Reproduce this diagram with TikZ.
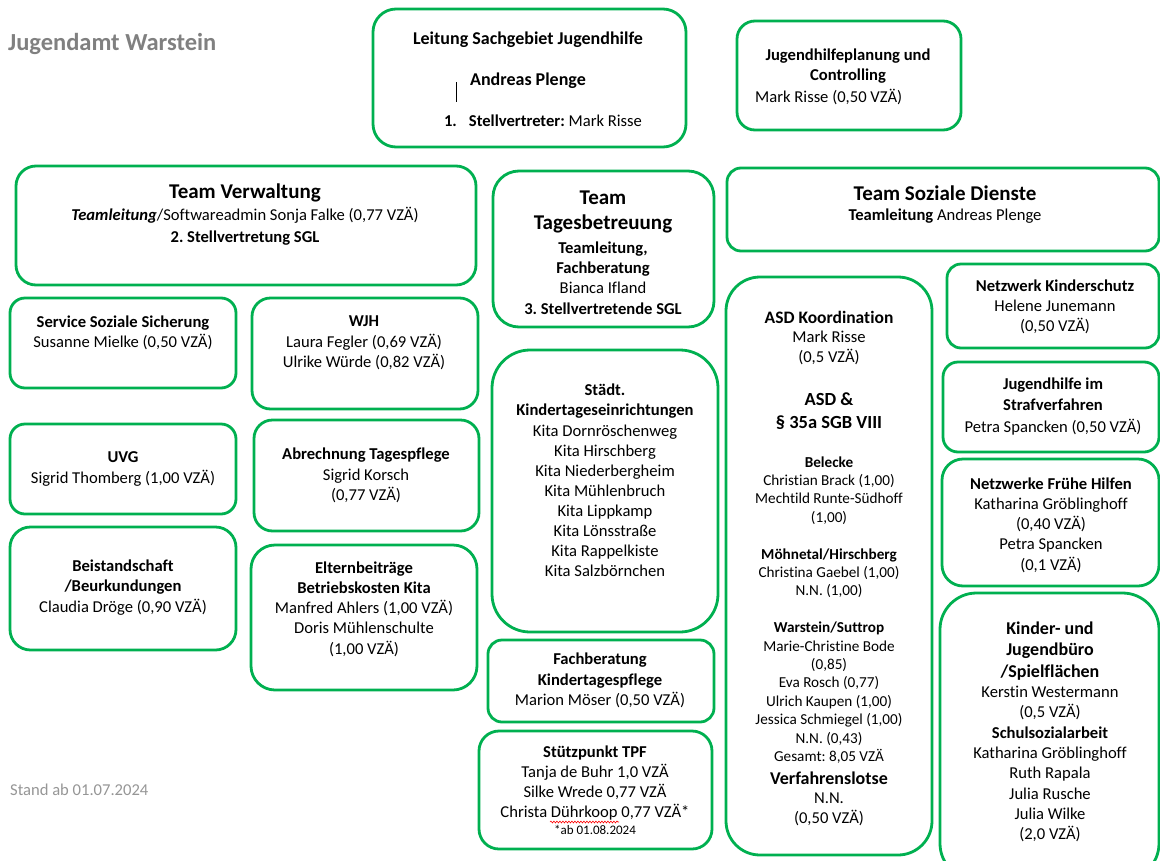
\documentclass[tikz,border=0pt]{standalone}
\usepackage{fontspec}
\setmainfont{Carlito}[Ligatures=NoCommon]
\usetikzlibrary{decorations.pathmorphing}
\definecolor{boxgreen}{RGB}{0,176,80}
\definecolor{titlegray}{RGB}{128,128,128}
\definecolor{standgray}{RGB}{150,150,150}
\frenchspacing

\begin{document}
\begin{tikzpicture}[
    x=1pt, y=-1pt,
    orgbox/.style n args={3}{draw=boxgreen, line width=2.8pt, fill=white, rounded corners=#3, minimum width=#1, minimum height=#2, inner sep=0pt},
    bodytxt/.style={align=center, inner sep=0pt, font=\fontsize{16.6}{20.3}\selectfont},
    smalltxt/.style={align=center, inner sep=0pt, font=\fontsize{15.2}{18.4}\selectfont},
    headtxt/.style={align=center, inner sep=0pt, font=\fontsize{21}{25.8}\selectfont\bfseries},
    subtxt/.style={align=center, inner sep=0pt, font=\fontsize{18}{21.5}\selectfont\bfseries},
]
\useasboundingbox (0,0) rectangle (1160,860);
\fill[white] (0,0) rectangle (1160,860);
\clip (0,0) rectangle (1160,860);

\node[anchor=west, inner sep=0pt, text=titlegray, font=\fontsize{24.5}{29}\selectfont\bfseries] (title) at (8,44) {Jugendamt Warstein};
\node[anchor=west, bodytxt, text=standgray] (stand) at (10,790) {Stand ab 01.07.2024};

% Leitung
\node[orgbox={313}{138}{23pt}] (lead) at (529.5,78) {};
\node[bodytxt, font=\fontsize{18}{21.5}\selectfont\bfseries] (lead-t1) at (528,40) {Leitung Sachgebiet Jugendhilfe};
\node[subtxt] (lead-t2) at (528,81) {Andreas Plenge};
\node[bodytxt] (lead-t3) at (543,121) {\textbf{1.}\hspace{12pt}\textbf{Stellvertreter:} Mark Risse};
\draw[line width=0.8pt] (456,82) -- (456,102);

% Jugendhilfeplanung
\node[orgbox={224}{109}{18pt}] (plan) at (849,75.5) {};
\node[bodytxt, font=\fontsize{16.6}{20.3}\selectfont\bfseries] (plan-t1) at (848,66) {Jugendhilfeplanung und\\Controlling};
\node[bodytxt, anchor=west] (plan-t2) at (755,97) {Mark Risse (0,50 VZÄ)};

% Team Verwaltung
\node[orgbox={460}{119}{20pt}] (verw) at (246,225.5) {};
\node[headtxt] (verw-t1) at (245,193) {Team Verwaltung};
\node[bodytxt, font=\fontsize{16.6}{21.8}\selectfont] (verw-t2) at (245,226) {\textbf{\textit{Teamleitung}}/Softwareadmin Sonja Falke (0,77 VZÄ)\\\textbf{2. Stellvertretung SGL}};

\node[orgbox={226}{90}{15pt}] (sss) at (123,343) {};
\node[bodytxt] (sss-t) at (123,333) {\textbf{Service Soziale Sicherung}\\Susanne Mielke (0,50 VZÄ)};

\node[orgbox={226}{111}{18.5pt}] (wjh) at (365,353.5) {};
\node[bodytxt] (wjh-t) at (364,343) {\textbf{WJH}\\Laura Fegler (0,69 VZÄ)\\Ulrike Würde (0,82 VZÄ)};

\node[orgbox={226}{90}{15pt}] (uvg) at (123,469) {};
\node[bodytxt] (uvg-t) at (123,469) {\textbf{UVG}\\Sigrid Thomberg (1,00 VZÄ)};

\node[orgbox={225}{111}{18.5pt}] (abr) at (366.5,475.5) {};
\node[bodytxt] (abr-t) at (366,475.5) {\textbf{Abrechnung Tagespflege}\\Sigrid Korsch\\(0,77 VZÄ)};

\node[orgbox={226}{123}{20.5pt}] (beist) at (123,588.5) {};
\node[bodytxt] (beist-t) at (123,587.5) {\textbf{Beistandschaft}\\\textbf{/Beurkundungen}\\Claudia Dröge (0,90 VZÄ)};

\node[orgbox={226}{145}{24pt}] (eltern) at (364,617.5) {};
\node[bodytxt] (eltern-t) at (364,609) {\textbf{Elternbeiträge}\\\textbf{Betriebskosten Kita}\\Manfred Ahlers (1,00 VZÄ)\\Doris Mühlenschulte\\(1,00 VZÄ)};

% Team Tagesbetreuung
\node[orgbox={221}{156}{26pt}] (tages) at (603.5,249) {};
\node[headtxt] (tages-t1) at (603,212) {Team\\Tagesbetreuung};
\node[bodytxt] (tages-t2) at (603,278) {\textbf{Teamleitung,}\\\textbf{Fachberatung}\\Bianca Ifland\\\textbf{3. Stellvertretende SGL}};

\node[orgbox={226}{282}{38pt}] (kita) at (605,491) {};
\node[bodytxt, font=\fontsize{16.6}{20.1}\selectfont] (kita-t) at (605,480.5) {\textbf{Städt.}\\\textbf{Kindertageseinrichtungen}\\Kita Dornröschenweg\\Kita Hirschberg\\Kita Niederbergheim\\Kita Mühlenbruch\\Kita Lippkamp\\Kita Lönsstraße\\Kita Rappelkiste\\Kita Salzbörnchen};

\node[orgbox={226}{82}{14pt}] (fbkt) at (601,681) {};
\node[bodytxt] (fbkt-t) at (600,680.5) {\textbf{Fachberatung}\\\textbf{Kindertagespflege}\\Marion Möser (0,50 VZÄ)};

\node[orgbox={233}{118}{20pt}] (tpf) at (595.5,790) {};
\node[bodytxt] (tpf-t) at (595,783) {\textbf{Stützpunkt TPF}\\Tanja de Buhr 1,0 VZÄ\\Silke Wrede 0,77 VZÄ\\Christa Dührkoop 0,77 VZÄ*};
\node[bodytxt, font=\fontsize{13}{16}\selectfont] (tpf-note) at (595,830) {*ab 01.08.2024};
\draw[red, line width=0.6pt, decorate, decoration={snake, amplitude=0.9pt, segment length=3pt}] (550,822) -- (619,822);

% Team Soziale Dienste
\node[orgbox={432}{83}{14pt}] (sozd) at (943,209.5) {};
\node[headtxt] (sozd-t1) at (945,193) {Team Soziale Dienste};
\node[bodytxt] (sozd-t2) at (945,216) {\textbf{Teamleitung} Andreas Plenge};

\node[orgbox={206}{578}{34pt}] (asd) at (829,566) {};
\node[bodytxt, font=\fontsize{17.5}{21}\selectfont\bfseries] (asd-koord) at (829,317) {ASD Koordination};
\node[bodytxt] (asd-risse) at (829,348) {Mark Risse\\(0,5 VZÄ)};
\node[bodytxt, font=\fontsize{18.5}{23}\selectfont\bfseries] (asd-para) at (829,411.5) {ASD \&\\\S\ 35a SGB VIII};
\node[smalltxt] (asd-team) at (829,610) {\textbf{Belecke}\\Christian Brack (1,00)\\Mechtild Runte-Südhoff\\(1,00)\\[18.4pt]\textbf{Möhnetal/Hirschberg}\\Christina Gaebel (1,00)\\N.N. (1,00)\\[18.4pt]\textbf{Warstein/Suttrop}\\Marie-Christine Bode\\(0,85)\\Eva Rosch (0,77)\\Ulrich Kaupen (1,00)\\Jessica Schmiegel (1,00)\\N.N. (0,43)\\Gesamt: 8,05 VZÄ};
\node[subtxt] (asd-lotse) at (829,778) {Verfahrenslotse};
\node[bodytxt] (asd-nn) at (829,809.5) {N.N.\\(0,50 VZÄ)};

\node[orgbox={212}{84}{14pt}] (kschutz) at (1053,306) {};
\node[bodytxt] (kschutz-t) at (1055,307) {\textbf{Netzwerk Kinderschutz}\\Helene Junemann\\(0,50 VZÄ)};

\node[orgbox={216}{90}{15pt}] (jgh) at (1051,407) {};
\node[bodytxt, font=\fontsize{16.6}{21.5}\selectfont] (jgh-t) at (1053,406.5) {\textbf{Jugendhilfe im}\\\textbf{Strafverfahren}\\Petra Spancken (0,50 VZÄ)};

\node[orgbox={217}{127}{21pt}] (fruehe) at (1050.5,522.5) {};
\node[bodytxt] (fruehe-t) at (1051,525) {\textbf{Netzwerke Frühe Hilfen}\\Katharina Gröblinghoff\\(0,40 VZÄ)\\Petra Spancken\\(0,1 VZÄ)};

\node[orgbox={219}{287}{36.5pt}] (kjb) at (1049.5,736.5) {};
\node[subtxt] (kjb-t1) at (1050,651) {Kinder- und\\Jugendbüro\\/Spielflächen};
\node[bodytxt] (kjb-t2) at (1050,764) {Kerstin Westermann\\(0,5 VZÄ)\\\textbf{Schulsozialarbeit}\\Katharina Gröblinghoff\\Ruth Rapala\\Julia Rusche\\Julia Wilke\\(2,0 VZÄ)};

\end{tikzpicture}
\end{document}
